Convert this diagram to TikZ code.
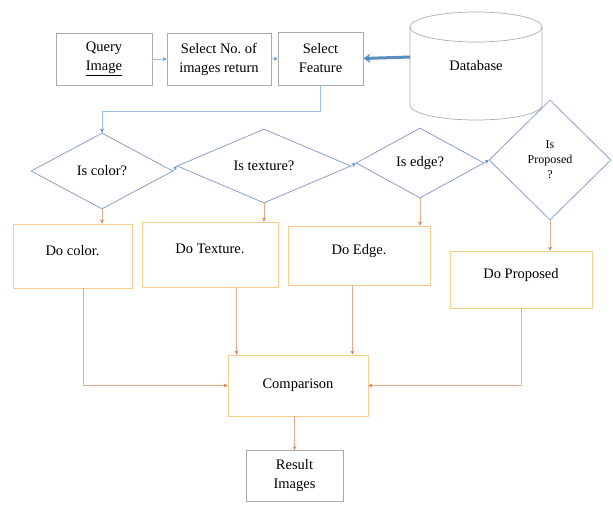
\documentclass[tikz,border=0pt]{standalone}
\usepackage{fontspec}
\setmainfont{Liberation Serif}
\usetikzlibrary{shapes.geometric,arrows.meta}
\definecolor{boxgray}{HTML}{A9AFA5}
\definecolor{lblue}{HTML}{9DC3E6}
\definecolor{tipblue}{HTML}{5B8FC9}
\definecolor{dblue}{HTML}{5B8CC0}
\definecolor{diab}{HTML}{8C9ED0}
\definecolor{obox}{HTML}{F7CD8A}
\definecolor{oline}{HTML}{EFA987}
\definecolor{otip}{HTML}{E08050}
\begin{document}
\begin{tikzpicture}[x=1pt,y=-1pt,
  base/.style={font=\fontsize{14.5}{19}\selectfont, align=center, inner sep=0pt},
  topbox/.style={base, draw=boxgray, line width=0.7pt},
  dobox/.style={base, draw=obox, line width=0.9pt, text height=10pt, text depth=12pt},
  dia/.style={base, diamond, draw=diab, line width=0.8pt},
  bl/.style={draw=lblue, line width=0.8pt, -{Stealth[length=4pt,width=4pt,color=tipblue]}},
  ol/.style={draw=oline, line width=0.8pt, -{Stealth[length=4pt,width=4pt,color=otip]}},
  dbline/.style={draw=boxgray, line width=0.7pt},
]
\useasboundingbox (0,0) rectangle (613,504);

% top row
\node[topbox, minimum width=96pt, minimum height=52pt] (query) at (104,59) {Query\\\underline{Image}};
\node[topbox, minimum width=104pt, minimum height=52pt] (selno) at (219,59) {Select No.\ of\\images return};
\node[topbox, minimum width=85pt, minimum height=53pt] (selfeat) at (320.5,58.5) {Select\\Feature};

% database cylinder
\draw[dbline] (410,27) -- (410,105) .. controls (410,113.28) and (439.55,120) .. (476,120)
   .. controls (512.45,120) and (542,113.28) .. (542,105) -- (542,27);
\draw[dbline] (476,27) ellipse [x radius=66pt, y radius=15pt];
\node[base] (db) at (476,66) {Database};
\coordinate (dbw) at (410,57);

% decisions
\node[dia, minimum width=142pt, minimum height=76pt] (color) at (102,171) {Is color?};
\node[dia, minimum width=174pt, minimum height=74pt] (tex) at (264,166) {Is texture?};
\node[dia, minimum width=128pt, minimum height=70pt] (edge) at (420,163) {Is edge?};
\node[dia, minimum width=122pt, minimum height=120pt, font=\fontsize{12}{15}\selectfont] (prop) at (550,160) {Is\\Proposed\\?};

% processes
\node[dobox, minimum width=119pt, minimum height=64pt] (docolor) at (72.5,256) {Do color.};
\node[dobox, minimum width=136pt, minimum height=65pt] (dotex) at (210,254.5) {Do Texture.};
\node[dobox, minimum width=142pt, minimum height=59pt] (doedge) at (359,255.5) {Do Edge.};
\node[dobox, minimum width=142pt, minimum height=57pt] (doprop) at (521,279.5) {Do Proposed};
\node[base, draw=obox, line width=0.9pt, minimum width=140pt, minimum height=61pt] (cmp) at (298,385.5) {Comparison};
\node[topbox, minimum width=97pt, minimum height=51pt] (res) at (294.5,476) {Result\\Images};

% blue connectors
\draw[bl] (query) -- (selno);
\draw[bl] (selno) -- (selfeat);
\draw[line width=3pt, draw=dblue, -{Stealth[length=7pt,width=9pt]}] (dbw) -- (selfeat.east);
\draw[bl] (selfeat.south) |- ([yshift=21pt]color.north) -- (color.north);
\draw[bl] (color.east) -- (tex.west);
\draw[bl] (tex.east) -- (edge.west);
\draw[bl] (edge.east) -- (prop.west);

% orange connectors
\draw[ol] (color.south) -- (color.south |- docolor.north);
\draw[ol] (tex.south) -- (tex.south |- dotex.north);
\draw[ol] (edge.south) -- (edge.south |- doedge.north);
\draw[ol] (prop.south) -- (prop.south |- doprop.north);
\draw[ol] ([xshift=10.5pt]docolor.south) |- (cmp.west);
\coordinate (t1) at ([xshift=9pt]cmp.north west);
\draw[ol] (t1 |- dotex.south) -- (t1);
\coordinate (t2) at ([xshift=-16pt]cmp.north east);
\draw[ol] (t2 |- doedge.south) -- (t2);
\draw[ol] (doprop.south) |- (cmp.east);
\draw[ol] (cmp.south -| res.north) -- (res.north);
\end{tikzpicture}
\end{document}
